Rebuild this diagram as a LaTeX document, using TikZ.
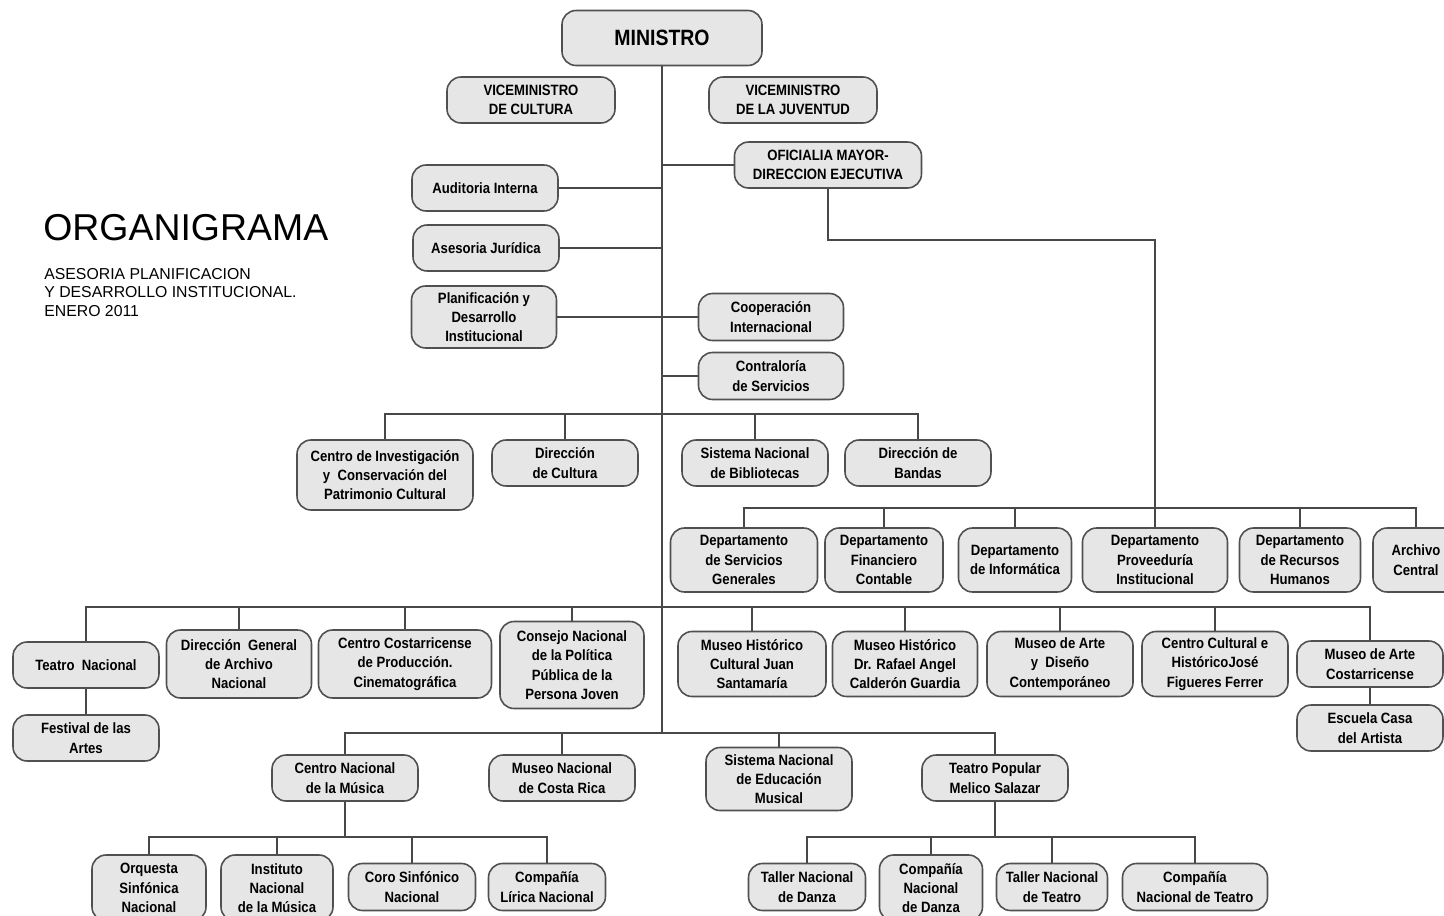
\documentclass[tikz,border=0pt]{standalone}
\usepackage{fontspec}
\setmainfont{Liberation Sans}
\newfontfamily\boxfont[FakeStretch=0.88]{Liberation Sans}
\definecolor{boxfill}{HTML}{E6E6E6}
\definecolor{boxline}{HTML}{505050}
\definecolor{linegray}{HTML}{484848}

\begin{document}
\begin{tikzpicture}
                [x=0.02cm, y=-0.02cm,
                box/.style={
                    draw=boxline,
                    fill=boxfill,
                    line width=0.9pt,
                    rounded corners=8pt,
                    align=center,
                    inner sep=1pt,
                    minimum width=2.92cm,
                    minimum height=0.92cm,
                    font=\boxfont\bfseries\fontsize{8.5}{11}\selectfont
                },
                wd/.style={minimum width=#1*0.02cm},
                ht/.style={minimum height=#1*0.02cm},
                line/.style={
                    draw=linegray, line width=0.8pt
                }
                ]
                \useasboundingbox (0,0) rectangle (1444,916);
                \clip (0,0) rectangle (1444,916);

                % Title
                \node[anchor=west, inner sep=0pt, font=\fontsize{21.3}{24}\selectfont] (title) at (43,228) {ORGANIGRAMA};
                \node[anchor=north west, inner sep=0pt, align=left, font=\fontsize{9}{10.5}\selectfont] (subtitle) at (44,268)
                    {ASESORIA PLANIFICACION\\Y DESARROLLO INSTITUCIONAL.\\ENERO 2011};

                % Top of the chart
                \node[box, wd=200, ht=55, font=\boxfont\bfseries\fontsize{12.6}{14}\selectfont] (min) at (662,38) {MINISTRO};
                \node[box, wd=168] (vmc) at (531,100) {VICEMINISTRO\\DE CULTURA};
                \node[box, wd=168] (vmj) at (793,100) {VICEMINISTRO\\DE LA JUVENTUD};
                \node[box, wd=187] (ofm) at (828,165) {OFICIALIA MAYOR-\\DIRECCION EJECUTIVA};

                % Staff units
                \node[box] (aud) at (485,188) {Auditoria Interna};
                \node[box] (ases) at (486,248) {Asesoria Jurídica};
                \node[box, wd=145, ht=62] (plan) at (484,317) {Planificación y\\Desarrollo\\Institucional};
                \node[box, wd=145, ht=47] (coop) at (771,317) {Cooperación\\Internacional};
                \node[box, wd=145, ht=47] (contra) at (771,376) {Contraloría\\de Servicios};

                % First row
                \node[box, wd=176, ht=70] (cicpc) at (385,475) {Centro de Investigación\\y\ \ Conservación del\\Patrimonio Cultural};
                \node[box] (dcult) at (565,463) {Dirección\\de Cultura};
                \node[box] (sinabi) at (755,463) {Sistema Nacional\\de Bibliotecas};
                \node[box] (dband) at (918,463) {Dirección de\\Bandas};

                % Departments
                \node[box, wd=147, ht=64] (dsg) at (744,560) {Departamento\\de Servicios\\Generales};
                \node[box, wd=118, ht=64] (dfc) at (884,560) {Departamento\\Financiero\\Contable};
                \node[box, wd=113, ht=64] (dinf) at (1015,560) {Departamento\\de Informática};
                \node[box, wd=145, ht=64] (prov) at (1155,560) {Departamento\\Proveeduría\\Institucional};
                \node[box, wd=121, ht=64] (drh) at (1300,560) {Departamento\\de Recursos\\Humanos};
                \node[box, wd=86, ht=64] (arch) at (1416,560) {Archivo\\Central};

                % Second row
                \node[box] (tnac) at (86,665) {Teatro\ \ Nacional};
                \node[box] (fest) at (86,738) {Festival de las\\Artes};
                \node[box, wd=145, ht=68] (dgan) at (239,664) {Dirección\ \ General\\de Archivo\\Nacional};
                \node[box, wd=173, ht=68] (ccpc) at (405,664) {Centro Costarricense\\de Producción.\\Cinematográfica};
                \node[box, wd=144, ht=87] (cnpj) at (572,665) {Consejo Nacional\\de la Política\\Pública de la\\Persona Joven};
                \node[box, wd=148, ht=65] (mjs) at (752,664) {Museo Histórico\\Cultural Juan\\Santamaría};
                \node[box, wd=145, ht=65] (mcg) at (905,664) {Museo Histórico\\Dr. Rafael Angel\\Calderón Guardia};
                \node[box, wd=146, ht=65] (made) at (1060,664) {Museo de Arte\\y\ \ Diseño\\Contemporáneo};
                \node[box, wd=146, ht=65] (ccjf) at (1215,664) {Centro Cultural e\\HistóricoJosé\\Figueres Ferrer};
                \node[box] (mac) at (1370,664) {Museo de Arte\\Costarricense};
                \node[box] (ecda) at (1370,728) {Escuela Casa\\del Artista};

                % Third row
                \node[box] (cnm) at (345,778) {Centro Nacional\\de la Música};
                \node[box] (mncr) at (562,778) {Museo Nacional\\de Costa Rica};
                \node[box, ht=63] (sinem) at (779,779) {Sistema Nacional\\de Educación\\Musical};
                \node[box] (tpms) at (995,778) {Teatro Popular\\Melico Salazar};

                % Bottom row
                \node[box, wd=114, ht=66] (osn) at (149,888) {Orquesta\\Sinfónica\\Nacional};
                \node[box, wd=112, ht=66] (inm) at (277,888) {Instituto\\Nacional\\de la Música};
                \node[box, wd=127, ht=47] (csn) at (412,887) {Coro Sinfónico\\Nacional};
                \node[box, wd=117, ht=47] (cln) at (547,887) {Compañía\\Lírica Nacional};
                \node[box, wd=117, ht=47] (tnd) at (807,887) {Taller Nacional\\de Danza};
                \node[box, wd=103, ht=66] (cnd) at (931,888) {Compañía\\Nacional\\de Danza};
                \node[box, wd=111, ht=47] (tnt) at (1052,887) {Taller Nacional\\de Teatro};
                \node[box, wd=145, ht=47] (cnt) at (1195,887) {Compañía\\Nacional de Teatro};

                % Branch points
                \coordinate (bar1) at (662,414);
                \coordinate (bar2) at (1155,508);
                \coordinate (ofturn) at (1155,240);
                \coordinate (bar3) at (662,607);
                \coordinate (bar4) at (662,733);
                \coordinate (bar5) at (345,837);
                \coordinate (bar6) at (995,837);

                % Main line
                \path [line] (min) -- (bar4);
                \foreach \n in {aud, ases, ofm, contra}{
                    \path [line] (\n) -- (\n -| min);
                }
                \path [line] (plan) -- (coop);

                % Oficialia to the departments
                \path [line] (ofm) |- (ofturn) -- (prov);
                \foreach \n in {dsg, dfc, dinf, drh, arch}{
                    \path [line] (bar2) -| (\n);
                }

                % Children hanging from the bars
                \foreach \n in {cicpc, dcult, sinabi, dband}{
                    \path [line] (bar1) -| (\n);
                }
                \foreach \n in {tnac, dgan, ccpc, cnpj, mjs, mcg, made, ccjf, mac}{
                    \path [line] (bar3) -| (\n);
                }
                \path [line] (tnac) -- (fest);
                \path [line] (mac) -- (ecda);
                \foreach \n in {cnm, mncr, sinem, tpms}{
                    \path [line] (bar4) -| (\n);
                }
                \path [line] (cnm) -- (bar5);
                \foreach \n in {osn, inm, csn, cln}{
                    \path [line] (bar5) -| (\n);
                }
                \path [line] (tpms) -- (bar6);
                \foreach \n in {tnd, cnd, tnt, cnt}{
                    \path [line] (bar6) -| (\n);
                }
            \end{tikzpicture}
\end{document}
